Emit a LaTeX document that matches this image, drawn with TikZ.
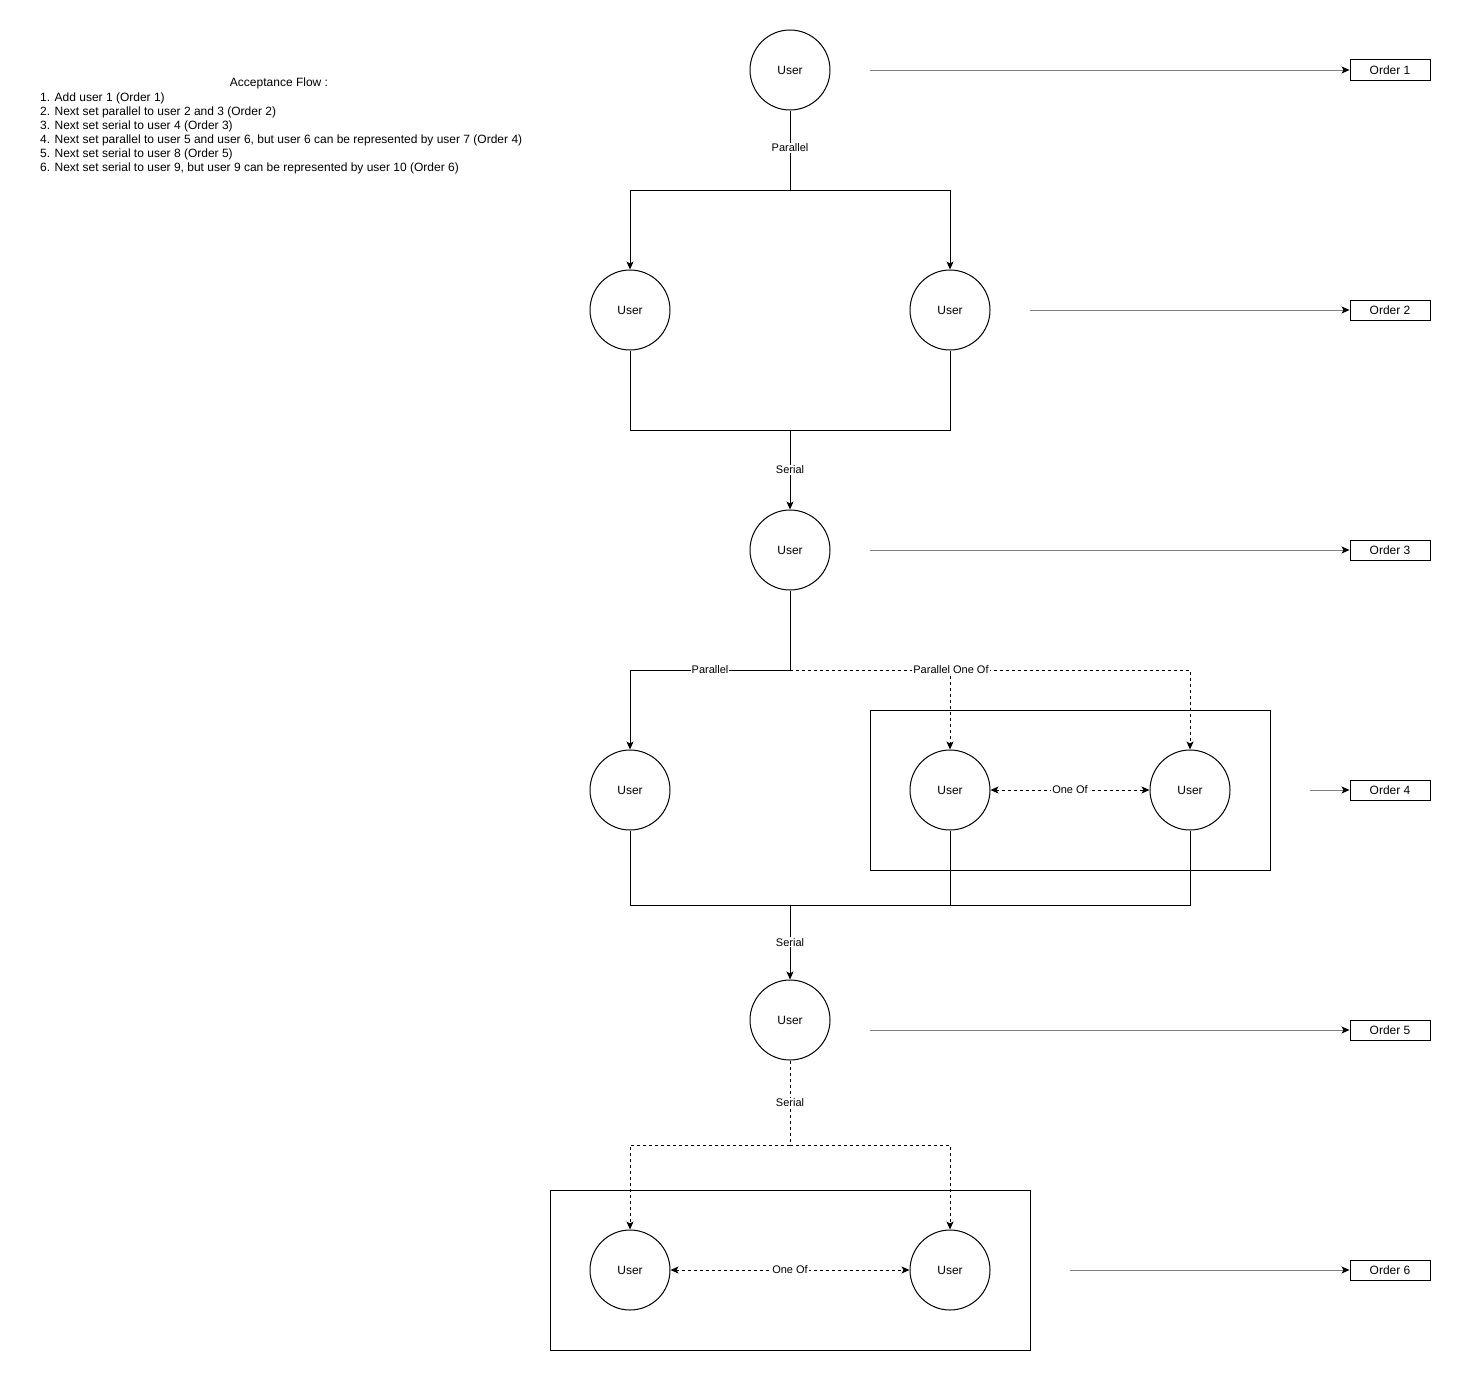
\documentclass[tikz,border=0pt]{standalone}
\usepackage{fontspec}
\setmainfont{Liberation Sans}
\usetikzlibrary{arrows.meta}
\begin{document}
\begin{tikzpicture}[x=1pt,y=-1pt,
  user/.style={circle,draw,line width=1pt,minimum size=80pt,inner sep=0pt,
    font=\fontsize{12}{14}\selectfont},
  orderbox/.style={draw,line width=1pt,minimum width=80pt,minimum height=20pt,
    inner sep=0pt,font=\fontsize{12}{14}\selectfont},
  groupbox/.style={draw,line width=1pt,inner sep=0pt},
  conn/.style={line width=1pt},
  dashedconn/.style={line width=1pt,dash pattern=on 3pt off 3pt},
  tip/.style={-{Stealth[length=8pt,width=7pt,inset=2pt]}},
  bothtips/.style={{Stealth[length=8pt,width=7pt,inset=2pt]}-{Stealth[length=8pt,width=7pt,inset=2pt]}},
  lbl/.style={fill=white,inner sep=1pt,font=\fontsize{11}{13}\selectfont},
  orderlink/.style={line width=0.8pt,draw=black!50,
    -{Stealth[length=8pt,width=7pt,inset=2pt,black]}}]

\useasboundingbox (0,0) rectangle (1461,1381);

% description text
\node (title) [font=\fontsize{12}{14}\selectfont] at (279,83) {Acceptance Flow :};
\node (steps) [anchor=north west,align=left,inner sep=0pt,
  font=\fontsize{12}{14}\selectfont] at (40,93) {%
  1. Add user 1 (Order 1)\\
  2. Next set parallel to user 2 and 3 (Order 2)\\
  3. Next set serial to user 4 (Order 3)\\
  4. Next set parallel to user 5 and user 6, but user 6 can be represented by user 7 (Order 4)\\
  5. Next set serial to user 8 (Order 5)\\
  6. Next set serial to user 9, but user 9 can be represented by user 10 (Order 6)};

% grouping boxes
\node (grp4) [groupbox,minimum width=400pt,minimum height=160pt] at (1070,790) {};
\node (grp6) [groupbox,minimum width=480pt,minimum height=160pt] at (790,1270) {};

% users
\node (u1)  [user] at (790,70)   {User};
\node (u2)  [user] at (630,310)  {User};
\node (u3)  [user] at (950,310)  {User};
\node (u4)  [user] at (790,550)  {User};
\node (u5)  [user] at (630,790)  {User};
\node (u6)  [user] at (950,790)  {User};
\node (u7)  [user] at (1190,790) {User};
\node (u8)  [user] at (790,1020) {User};
\node (u9)  [user] at (630,1270) {User};
\node (u10) [user] at (950,1270) {User};

% order boxes
\node (o1) [orderbox] at (1390,70)   {Order 1};
\node (o2) [orderbox] at (1390,310)  {Order 2};
\node (o3) [orderbox] at (1390,550)  {Order 3};
\node (o4) [orderbox] at (1390,790)  {Order 4};
\node (o5) [orderbox] at (1390,1030) {Order 5};
\node (o6) [orderbox] at (1390,1270) {Order 6};

% junction points
\coordinate (j1) at (790,190);
\coordinate (j2) at (790,430);
\coordinate (j3) at (790,670);
\coordinate (j4) at (790,905);
\coordinate (j5) at (790,1145);

% order link starts
\coordinate (s1) at (870,70);
\coordinate (s2) at (1030,310);
\coordinate (s3) at (870,550);
\coordinate (s4) at (1310,790);
\coordinate (s5) at (870,1030);
\coordinate (s6) at (1070,1270);

% step 1 -> 2 (parallel)
\draw[conn] (u1.south) -- node[lbl,pos=0.47] {Parallel} (j1);
\draw[conn,tip] (j1) -| (u2.north);
\draw[conn,tip] (j1) -| (u3.north);

% step 2 -> 3 (serial)
\draw[conn] (u2.south) |- (j2);
\draw[conn] (u3.south) |- (j2);
\draw[conn,tip] (j2) -- node[lbl] {Serial} (u4.north);

% step 3 -> 4 (parallel / parallel one of)
\draw[conn] (u4.south) -- (j3);
\draw[conn,tip] (j3) -| node[lbl,pos=0.25] {Parallel} (u5.north);
\draw[dashedconn,tip] (j3) -| (u7.north);
\draw[dashedconn,tip] (u6.north |- j3) -- (u6.north);
\node (po) [lbl] at (951,670) {Parallel One Of};
\draw[dashedconn,bothtips] (u6.east) -- node[lbl] {One Of} (u7.west);

% step 4 -> 5 (serial)
\draw[conn] (u5.south) |- (j4);
\draw[conn] (u7.south) |- (j4);
\draw[conn] (u6.south) -- (u6.south |- j4);
\draw[conn,tip] (j4) -- node[lbl] {Serial} (u8.north);

% step 5 -> 6 (serial, one of)
\draw[dashedconn] (u8.south) -- node[lbl] {Serial} (j5);
\draw[dashedconn,tip] (j5) -| (u9.north);
\draw[dashedconn,tip] (j5) -| (u10.north);
\draw[dashedconn,bothtips] (u9.east) -- node[lbl] {One Of} (u10.west);

% order links
\draw[orderlink] (s1) -- (o1.west);
\draw[orderlink] (s2) -- (o2.west);
\draw[orderlink] (s3) -- (o3.west);
\draw[orderlink] (s4) -- (o4.west);
\draw[orderlink] (s5) -- (o5.west);
\draw[orderlink] (s6) -- (o6.west);
\end{tikzpicture}
\end{document}
